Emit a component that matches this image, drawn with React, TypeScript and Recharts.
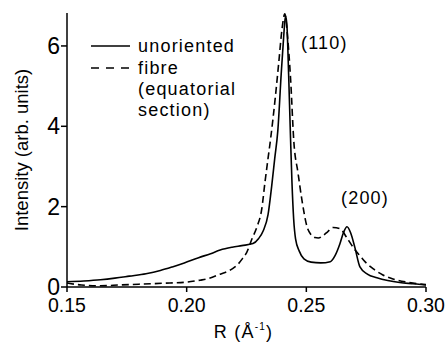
import { CartesianGrid, Line, LineChart, XAxis, YAxis } from "recharts";

type Point = { r: number; intensity: number };

// unoriented sample (solid line)
const UNORIENTED: [number, number][] = [
  [0.15, 0.13], [0.157, 0.15], [0.164, 0.18], [0.17, 0.22], [0.176, 0.27],
  [0.183, 0.33], [0.189, 0.41], [0.194, 0.5], [0.199, 0.6], [0.205, 0.73],
  [0.21, 0.83], [0.214, 0.92], [0.219, 0.99], [0.223, 1.03], [0.2277, 1.08],
  [0.23, 1.2], [0.232, 1.4], [0.234, 1.8], [0.2355, 2.5], [0.2368, 3.2],
  [0.2381, 3.9], [0.2395, 5.3], [0.2405, 6.2], [0.2413, 6.75], [0.2419, 6.5],
  [0.2426, 5.3], [0.2434, 3.7], [0.244, 2.6], [0.2447, 1.7], [0.2455, 1.2],
  [0.247, 0.9], [0.249, 0.7], [0.252, 0.62], [0.256, 0.6], [0.26, 0.63],
  [0.262, 0.78], [0.264, 1.07], [0.2655, 1.35], [0.267, 1.5], [0.2685, 1.35],
  [0.2703, 0.98], [0.2724, 0.5], [0.2755, 0.32], [0.2795, 0.23], [0.284, 0.16],
  [0.289, 0.11], [0.295, 0.08], [0.3, 0.05],
];

// fibre, equatorial section (dashed line)
const FIBRE: [number, number][] = [
  [0.15, 0.1], [0.156, 0.05], [0.164, 0.03], [0.172, 0.05], [0.18, 0.07],
  [0.193, 0.1], [0.2, 0.12], [0.2056, 0.17], [0.2085, 0.2], [0.214, 0.32],
  [0.219, 0.45], [0.2215, 0.57], [0.2236, 0.73], [0.225, 0.85], [0.2273, 1.2],
  [0.2294, 1.5], [0.2314, 1.95], [0.2327, 2.6], [0.234, 3.2], [0.2351, 3.7],
  [0.237, 4.7], [0.2385, 5.6], [0.2398, 6.4], [0.241, 6.8], [0.2422, 6.2],
  [0.2434, 5.2], [0.2448, 3.6], [0.2465, 2.85], [0.2482, 2.15], [0.2503, 1.5],
  [0.252, 1.3], [0.2536, 1.23], [0.255, 1.22], [0.257, 1.28], [0.259, 1.38],
  [0.2612, 1.48], [0.264, 1.45], [0.2674, 1.18], [0.27, 0.95], [0.2724, 0.78],
  [0.275, 0.6], [0.278, 0.45], [0.282, 0.3], [0.2862, 0.2], [0.292, 0.12],
  [0.3, 0.06],
];

const X_TICKS = [0.15, 0.2, 0.25, 0.3];
const Y_TICKS = [0, 2, 4, 6];

const FONT = "'Liberation Sans', Arial, Helvetica, sans-serif";

function toPoints(rows: [number, number][]): Point[] {
  return rows.map(([r, intensity]) => ({ r, intensity }));
}

function XLabel(props: any) {
  const vb = props.viewBox ?? { x: 0, y: 0, width: 0, height: 0 };
  const cx = vb.x + vb.width / 2 - 3;
  return (
    <text x={cx} y={338} textAnchor="middle" fontSize={18} fontFamily={FONT} letterSpacing={1.2} fill="#000">
      R (Å
      <tspan fontSize={10} dy={-8}>-1</tspan>
      <tspan dy={8}>)</tspan>
    </text>
  );
}

export default function App() {
  const solid = toPoints(UNORIENTED);
  const dashed = toPoints(FIBRE);

  return (
    <div style={{ position: "absolute", left: 0, top: 0, width: 448, height: 342, background: "#fff" }}>
      <LineChart width={448} height={342} margin={{ top: 13, right: 22, bottom: 0, left: 0 }}>
        <CartesianGrid stroke="none" />
        <XAxis
          type="number"
          dataKey="r"
          domain={[0.15, 0.3]}
          ticks={X_TICKS}
          tickFormatter={(v: number) => v.toFixed(2)}
          allowDataOverflow
          stroke="#000"
          strokeWidth={1.5}
          tickSize={5}
          tickMargin={6}
          tick={{ fill: "#000", fontSize: 19.5, fontFamily: FONT }}
          height={55}
          label={<XLabel />}
        />
        <YAxis
          type="number"
          dataKey="intensity"
          domain={[0, 6.82]}
          ticks={Y_TICKS}
          allowDataOverflow
          stroke="#000"
          strokeWidth={1.5}
          tickSize={6}
          tickMargin={1}
          tick={{ fill: "#000", fontSize: 23, fontFamily: FONT }}
          width={67}
          label={{
            value: "Intensity (arb. units)",
            angle: -90,
            position: "insideLeft",
            offset: 0,
            dx: 21,
            style: { fill: "#000", fontSize: 18.5, fontFamily: FONT, textAnchor: "middle" },
          }}
        />
        <Line
          data={solid}
          dataKey="intensity"
          type="monotone"
          stroke="#000"
          strokeWidth={1.6}
          dot={false}
          isAnimationActive={false}
        />
        <Line
          data={dashed}
          dataKey="intensity"
          type="monotone"
          stroke="#000"
          strokeWidth={1.6}
          strokeDasharray="7 4"
          dot={false}
          isAnimationActive={false}
        />
      </LineChart>
      <svg
        width={448}
        height={342}
        style={{ position: "absolute", left: 0, top: 0, pointerEvents: "none" }}
        fontFamily={FONT}
        fontSize={18}
        letterSpacing={1.2}
      >
        <line x1={91} y1={46} x2={130} y2={46} stroke="#000" strokeWidth={1.6} />
        <line x1={91} y1={68} x2={131} y2={68} stroke="#000" strokeWidth={1.6} strokeDasharray="8 7" />
        <text x={138} y={46} dominantBaseline="central">unoriented</text>
        <text x={138} y={68} dominantBaseline="central">fibre</text>
        <text x={138} y={89} dominantBaseline="central">(equatorial</text>
        <text x={138} y={110} dominantBaseline="central">section)</text>
        <text x={301} y={43} dominantBaseline="central">(110)</text>
        <text x={341} y={198} dominantBaseline="central">(200)</text>
      </svg>
    </div>
  );
}
